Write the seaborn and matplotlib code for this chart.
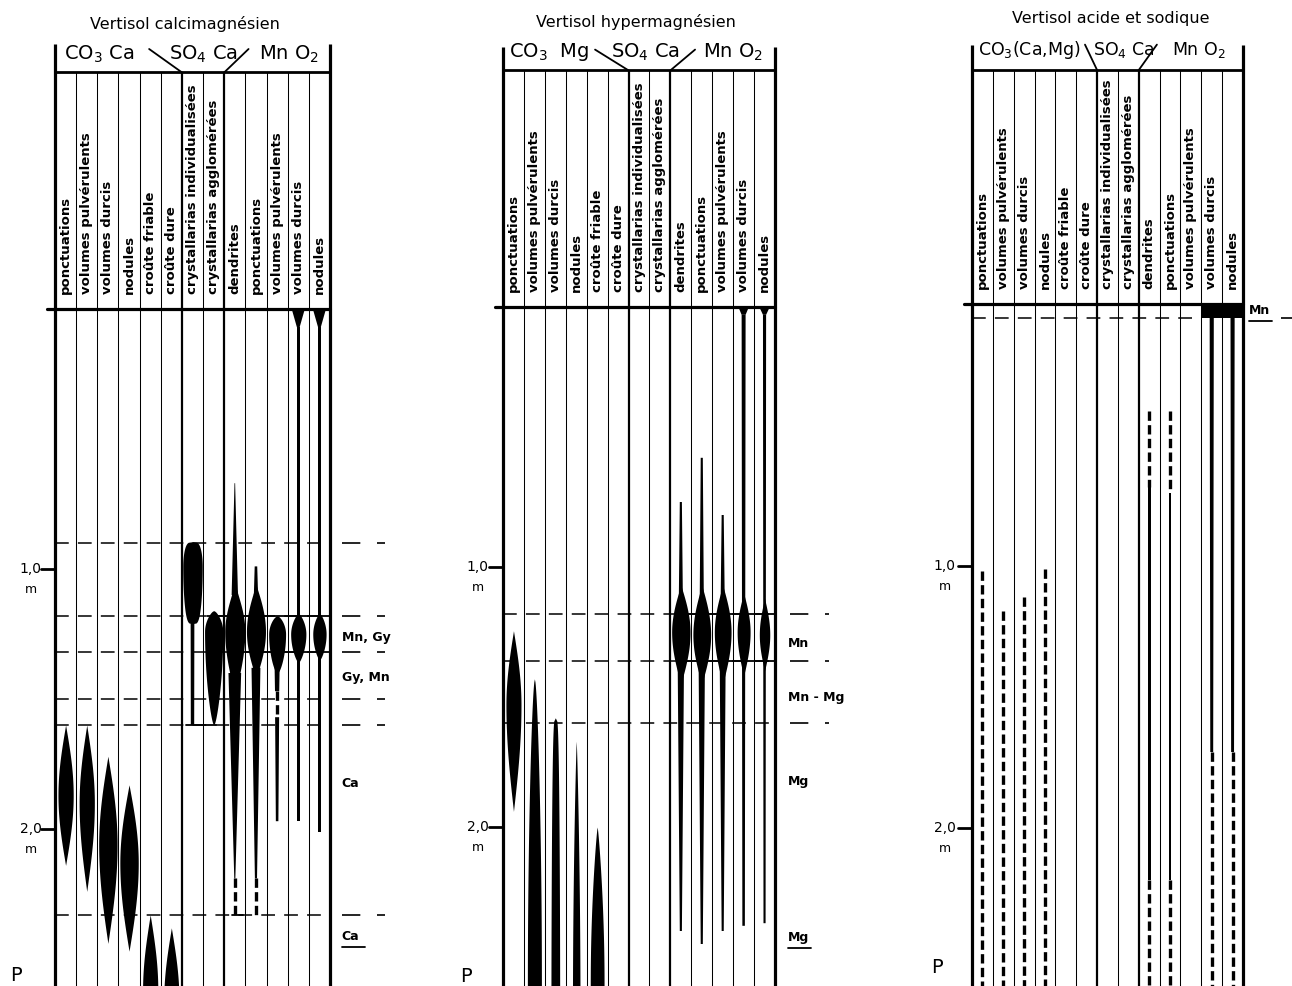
import numpy as np
import matplotlib
matplotlib.use("Agg")
import matplotlib.pyplot as plt
import seaborn as sns

sns.set_theme(style="white")
plt.rcParams['font.family'] = ['DejaVu Sans']
plt.rcParams['text.color'] = 'black'

# colonnes des profils (13 par profil)
col_names = ["ponctuations", "volumes pulvérulents", "volumes durcis", "nodules",
             "croûte friable", "croûte dure", "crystallarias individualisées",
             "crystallarias agglomérées", "dendrites", "ponctuations",
             "volumes pulvérulents", "volumes durcis", "nodules"]

titles = ["Vertisol calcimagnésien", "Vertisol hypermagnésien", "Vertisol acide et sodique"]
groups = [[r"CO$_3$ Ca", r"SO$_4$ Ca", r"Mn O$_2$"],
          [r"CO$_3$  Mg", r"SO$_4$ Ca", r"Mn O$_2$"],
          [r"CO$_3$(Ca,Mg)", r"SO$_4$ Ca", r"Mn O$_2$"]]

depth_ticks = [1.0, 2.0]
depth_tick_labels = ["1,0", "2,0"]

# horizons (profondeur en m) et notations a droite
horizons_1 = [0.90, 1.18, 1.32, 1.50, 1.60, 2.33]
horizons_2 = [1.18, 1.36, 1.60]
horizons_3 = [0.055]
notes_1 = ["Mn, Gy", "Gy, Mn", "Ca", "Ca"]
notes_depth_1 = [1.26, 1.415, 1.82, 2.41]
notes_under_1 = [False, False, False, True]
notes_2 = ["Mn", "Mn - Mg", "Mg", "Mg"]
notes_depth_2 = [1.29, 1.50, 1.82, 2.42]
notes_under_2 = [False, False, False, True]
notes_3 = ["Mn"]
notes_depth_3 = [0.02]
notes_under_3 = [True]

# fuseaux : colonne, sommet, maximum, base, largeur (fraction de colonne), forme
spindles_1 = [(0, 1.60, 1.87, 2.14, 0.72, 1.0), (1, 1.60, 1.90, 2.24, 0.72, 1.0),
              (2, 1.72, 2.06, 2.44, 0.87, 1.0), (3, 1.83, 2.13, 2.47, 0.87, 1.0),
              (4, 2.33, 2.62, 2.95, 0.72, 1.0), (5, 2.38, 2.66, 2.95, 0.72, 1.0),
              (6, 0.895, 0.99, 1.21, 0.92, 0.25), (7, 1.16, 1.24, 1.60, 0.86, 0.65),
              (8, 1.05, 1.24, 1.50, 0.95, 1.2), (9, 1.06, 1.24, 1.42, 0.90, 1.0),
              (10, 1.18, 1.25, 1.40, 0.80, 0.6), (11, 1.17, 1.25, 1.36, 0.72, 0.7),
              (12, 1.17, 1.25, 1.35, 0.63, 0.7)]
# tiges : colonne, sommet, base, largeur haut, largeur bas
stems_1 = [(6, 1.10, 1.60, 0.18, 0.16), (8, 0.67, 1.10, 0.03, 0.30), (8, 1.40, 2.19, 0.60, 0.05),
           (9, 0.99, 1.10, 0.12, 0.20), (9, 1.38, 2.19, 0.42, 0.10),
           (10, 1.35, 1.47, 0.25, 0.20), (10, 1.57, 1.97, 0.19, 0.12),
           (11, 0.0, 0.07, 0.62, 0.13), (11, 0.07, 1.97, 0.13, 0.13),
           (12, 0.0, 0.07, 0.62, 0.13), (12, 0.07, 2.01, 0.13, 0.13)]
# traits tiretes : colonne, sommet, base
dashed_1 = [(8, 2.19, 2.33), (9, 2.19, 2.33), (10, 1.47, 1.57)]
# traits pleins horizontaux : profondeur, colonne debut, colonne fin
rules_1 = [(1.18, 7.2, 13), (1.32, 9.0, 13), (1.60, 6.2, 7.6), (2.33, 8.35, 8.9)]

spindles_2 = [(0, 1.245, 1.53, 1.94, 0.72, 1.0), (1, 1.43, 2.60, 3.20, 0.67, 0.6),
              (2, 1.58, 2.80, 3.50, 0.42, 0.25), (3, 1.67, 2.70, 3.50, 0.36, 0.8),
              (4, 2.00, 2.60, 3.20, 0.66, 0.8),
              (8, 1.07, 1.25, 1.45, 0.88, 1.0), (9, 1.07, 1.26, 1.45, 0.85, 1.0),
              (10, 1.07, 1.25, 1.45, 0.80, 1.0), (11, 1.10, 1.25, 1.42, 0.62, 1.0),
              (12, 1.12, 1.26, 1.40, 0.50, 1.0)]
stems_2 = [(8, 0.75, 1.15, 0.10, 0.20), (8, 1.38, 2.40, 0.30, 0.10),
           (9, 0.58, 1.15, 0.10, 0.20), (9, 1.38, 2.45, 0.30, 0.10),
           (10, 0.80, 1.15, 0.10, 0.20), (10, 1.38, 2.40, 0.28, 0.10),
           (11, 0.0, 0.03, 0.50, 0.19), (11, 0.03, 2.38, 0.19, 0.12),
           (12, 0.0, 0.03, 0.50, 0.15), (12, 0.03, 2.37, 0.15, 0.10)]
dashed_2 = []
rules_2 = [(1.18, 8.3, 13), (1.36, 8.3, 13)]

spindles_3 = []
stems_3 = [(8, 0.70, 2.20, 0.14, 0.14), (9, 0.72, 2.20, 0.14, 0.14),
           (11, 0.0, 1.71, 0.20, 0.14), (12, 0.0, 1.71, 0.20, 0.14),
           (11, 0.0, 0.055, 1.0, 1.0), (12, 0.0, 0.055, 1.0, 1.0)]
dashed_3 = [(0, 1.02, 2.7), (1, 1.17, 2.7), (2, 1.12, 2.7), (3, 1.01, 2.7),
            (8, 0.41, 0.70), (8, 2.20, 2.7), (9, 0.41, 0.72), (9, 2.20, 2.7),
            (11, 1.71, 2.7), (12, 1.71, 2.7)]
rules_3 = []

# mise en page (pixels de l'image)
layouts = [
    dict(ax_px=(0, 440), frame_px=(55, 330), surf_px=310, ppm=260, head=-0.91, top=-1.02,
         diag=(4.45, 9.15), diag_y=-1.0, title_xy=(6.15, -1.10), group_x=(2.1, 7.0, 11.05),
         group_y=-0.985, group_fs=14, tick_x=-1.14, p_xy=(-1.85, 2.56), note_x=13.55,
         ext=(13.55, 15.6), h_end=13),
    dict(ax_px=(440, 890), frame_px=(503, 775), surf_px=308, ppm=260, head=-0.91, top=-1.0,
         diag=(4.4, 9.18), diag_y=-0.99, title_xy=(6.36, -1.10), group_x=(2.2, 6.8, 11.0),
         group_y=-0.985, group_fs=14, tick_x=-1.2, p_xy=(-1.77, 2.57), note_x=13.6,
         ext=(13.7, 15.6), h_end=13),
    dict(ax_px=(890, 1292), frame_px=(972, 1243), surf_px=305, ppm=262, head=-0.893, top=-0.99,
         diag=(5.42, 8.87), diag_y=-0.99, title_xy=(6.67, -1.095), group_x=(2.75, 7.3, 10.9),
         group_y=-0.975, group_fs=12.5, tick_x=-1.3, p_xy=(-1.68, 2.53), note_x=13.3,
         ext=(14.8, 15.5), h_end=11),
]

panels = [
    (horizons_1, notes_1, notes_depth_1, notes_under_1, spindles_1, stems_1, dashed_1, rules_1),
    (horizons_2, notes_2, notes_depth_2, notes_under_2, spindles_2, stems_2, dashed_2, rules_2),
    (horizons_3, notes_3, notes_depth_3, notes_under_3, spindles_3, stems_3, dashed_3, rules_3),
]


def spindle(ax, c, top, peak, bottom, w, k):
    d = np.linspace(top, bottom, 150)
    u = np.where(d <= peak, (d - top) / (peak - top), (bottom - d) / (bottom - peak))
    hw = 0.5 * w * np.sin(0.5 * np.pi * np.clip(u, 0, 1)) ** k
    ax.fill_betweenx(d, c + 0.5 - hw, c + 0.5 + hw, color="black", lw=0)


def stem(ax, c, top, bottom, wt, wb):
    ax.fill([c + 0.5 - wt / 2, c + 0.5 + wt / 2, c + 0.5 + wb / 2, c + 0.5 - wb / 2],
            [top, top, bottom, bottom], color="black", lw=0)


W, H = 1292, 987
fig = plt.figure(figsize=(W / 100, H / 100), dpi=100)
fig.patch.set_facecolor("white")

for p, lay in enumerate(layouts):
    horizons, notes, notes_depth, notes_under, spindles, stems, dashed, rules = panels[p]
    a0, a1 = lay["ax_px"]
    f0, f1 = lay["frame_px"]
    cw = (f1 - f0) / 13
    ax = fig.add_axes([a0 / W, 0, (a1 - a0) / W, 1])
    ax.set_xlim((a0 - f0) / cw, (a1 - f0) / cw)
    ax.set_ylim((H - lay["surf_px"]) / lay["ppm"], -lay["surf_px"] / lay["ppm"])
    ax.axis("off")

    # cadre et colonnes
    for i in range(14):
        if i in (0, 13):
            lw, y0 = 2.3, lay["top"]
        elif i in (6, 8):
            lw, y0 = 1.6, lay["head"]
        else:
            lw, y0 = 0.75, lay["head"]
        ax.plot([i, i], [y0, 2.8], color="black", lw=lw, solid_capstyle="butt")
    ax.plot([0, 13], [lay["head"]] * 2, color="black", lw=2.0)
    ax.plot([-0.4, 13], [0, 0], color="black", lw=2.3)
    ax.plot([lay["diag"][0], 6], [lay["diag_y"], lay["head"]], color="black", lw=1.3)
    ax.plot([lay["diag"][1], 8], [lay["diag_y"], lay["head"]], color="black", lw=1.3)

    ax.text(*lay["title_xy"], titles[p], ha="center", va="center", fontsize=11.5)
    for gx, g in zip(lay["group_x"], groups[p]):
        ax.text(gx, lay["group_y"], g, ha="center", va="center", fontsize=lay["group_fs"])
    for i, name in enumerate(col_names):
        ax.text(i + 0.5, -0.06, name, rotation=90, ha="center", va="bottom",
                fontsize=9.5, fontweight="bold")

    # echelle des profondeurs
    for d, lab in zip(depth_ticks, depth_tick_labels):
        ax.plot([-0.65, 0], [d, d], color="black", lw=2.0)
        ax.text(lay["tick_x"], d - 0.005, lab, ha="center", va="center", fontsize=10)
        ax.text(lay["tick_x"], d + 0.075, "m", ha="center", va="center", fontsize=9)
    ax.text(*lay["p_xy"], "P", ha="center", va="center", fontsize=14)

    # horizons
    for d in horizons:
        ax.plot([0, lay["h_end"]], [d, d], color="black", lw=1.1, ls=(0, (9, 6)))
        ax.plot(list(lay["ext"]), [d, d], color="black", lw=1.2, ls=(0, (11, 10)))
    for txt, d, under in zip(notes, notes_depth, notes_under):
        ax.text(lay["note_x"], d, txt, ha="left", va="center", fontsize=9, fontweight="bold")
        if under:
            ax.plot([lay["note_x"], lay["note_x"] + 0.55 * len(txt)], [d + 0.045] * 2,
                    color="black", lw=1.3)

    for r in rules:
        ax.plot([r[1], r[2]], [r[0], r[0]], color="black", lw=1.3)
    for s in spindles:
        spindle(ax, *s)
    for s in stems:
        stem(ax, *s)
    for c, t0, t1 in dashed:
        ax.plot([c + 0.5, c + 0.5], [t0, t1], color="black", lw=2.4,
                ls=(0, (2.8, 1.3)), dash_capstyle="butt")

fig.savefig("out.png", dpi=100, facecolor="white")
